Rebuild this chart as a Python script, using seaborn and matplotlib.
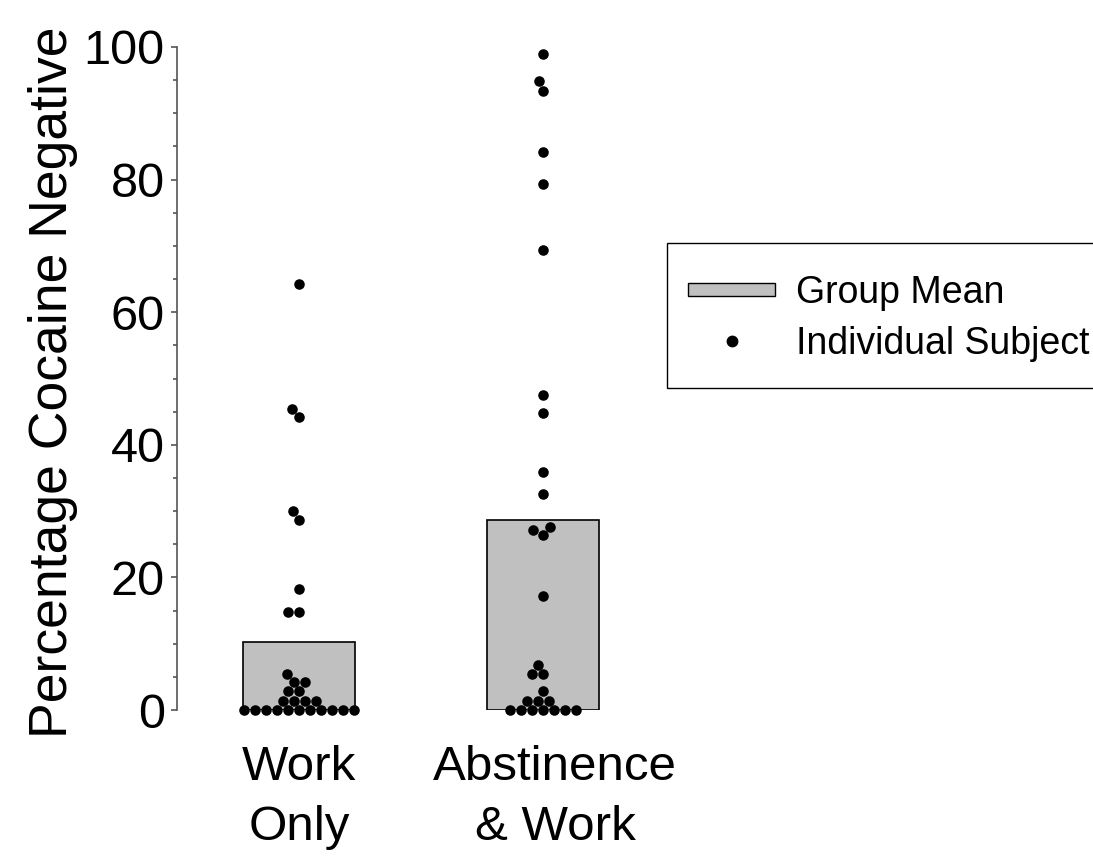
import numpy as np
import pandas as pd
import matplotlib
matplotlib.use("Agg")
import matplotlib.pyplot as plt
import matplotlib.transforms as mtransforms
import seaborn as sns
from matplotlib.patches import Patch, Rectangle
from matplotlib.lines import Line2D
from matplotlib.legend_handler import HandlerPatch

categories = ["Work\nOnly", "Abstinence\n& Work"]
work_only = [0]*11 + [1.4, 1.4, 1.4, 1.4, 2.8, 2.8, 4.2, 4.2, 5.5,
                      14.8, 14.8, 18.2, 28.7, 30.0, 44.2, 45.4, 64.3]
abstinence_work = [0]*7 + [1.4, 1.4, 1.4, 2.9, 5.4, 5.4, 6.8, 17.2,
                           26.4, 27.1, 27.6, 32.6, 35.9, 44.8, 47.5,
                           69.4, 79.3, 84.1, 93.4, 94.9, 98.9]
y_ticks = [0, 20, 40, 60, 80, 100]

df = pd.DataFrame({
    "group": [categories[0]]*len(work_only) + [categories[1]]*len(abstinence_work),
    "value": work_only + abstinence_work,
})

sns.set_theme(style="ticks")
plt.rcParams["font.family"] = ["Liberation Sans", "DejaVu Sans"]
plt.rcParams["text.color"] = "black"
plt.rcParams["axes.labelcolor"] = "black"
plt.rcParams["xtick.color"] = "black"
plt.rcParams["ytick.color"] = "black"

fig = plt.figure(figsize=(10.93, 8.56), dpi=100)
ax = fig.add_axes([177/1093, 1 - 710/856, (665-177)/1093, (710-47)/856])

sns.barplot(data=df, x="group", y="value", order=categories, estimator="mean",
            errorbar=None, color="#c0c0c0", edgecolor="black", linewidth=1.2,
            width=0.455, saturation=1, ax=ax)
sns.swarmplot(data=df, x="group", y="value", order=categories, color="black",
              size=7.6, ax=ax, zorder=5, warn_thresh=1.0)
for coll in ax.collections:
    coll.set_clip_on(False)

ax.set_xlim(-0.5, 1.5)
ax.set_ylim(0, 100)
ax.set_yticks(y_ticks)
ax.set_yticks(np.arange(0, 101, 5), minor=True)
ax.tick_params(axis="y", which="major", length=4.5, width=1.2, color="#555555",
               pad=4.3, labelsize=35)
ax.tick_params(axis="y", which="minor", length=3, width=1.2, color="#555555")
ax.tick_params(axis="x", length=0, pad=25)
ax.set_xticks([0, 1])
ax.set_xticklabels(categories, linespacing=1.45, fontsize=35.5)
# second category label sits slightly right of its bar in the reference
shift = mtransforms.ScaledTranslation(12/100, 0, fig.dpi_scale_trans)
xt = ax.get_xticklabels()[1]
xt.set_transform(xt.get_transform() + shift)
ax.set_xlabel("")
ax.set_ylabel("Percentage Cocaine Negative", fontsize=38.5)
ax.yaxis.set_label_coords(-0.203, 0.494)

for s in ["top", "right", "bottom"]:
    ax.spines[s].set_visible(False)
ax.spines["left"].set_color("#555555")
ax.spines["left"].set_linewidth(1.2)


def thin_patch(legend, orig_handle, xdescent, ydescent, width, height, fontsize):
    return Rectangle((-xdescent, -ydescent + height*0.25), width, height*0.5)


handles = [Patch(facecolor="#c0c0c0", edgecolor="black", linewidth=1.0),
           Line2D([], [], marker="o", linestyle="none", color="black", markersize=7.5)]
leg = fig.legend(handles, ["Group Mean", "Individual Subject"],
                 loc="center left", bbox_to_anchor=(688/1093, 1 - 318.5/856),
                 borderaxespad=0, borderpad=0, fontsize=27, frameon=False,
                 handlelength=2.32, handletextpad=0.55, labelspacing=0.4,
                 handler_map={Patch: HandlerPatch(patch_func=thin_patch)})

frame = Rectangle((667/1093, 1 - 388/856), 0.5, (388-243)/856,
                  transform=fig.transFigure, facecolor="none",
                  edgecolor="black", linewidth=1.0, clip_on=False)
fig.patches.append(frame)

fig.savefig("out.png", dpi=100)
